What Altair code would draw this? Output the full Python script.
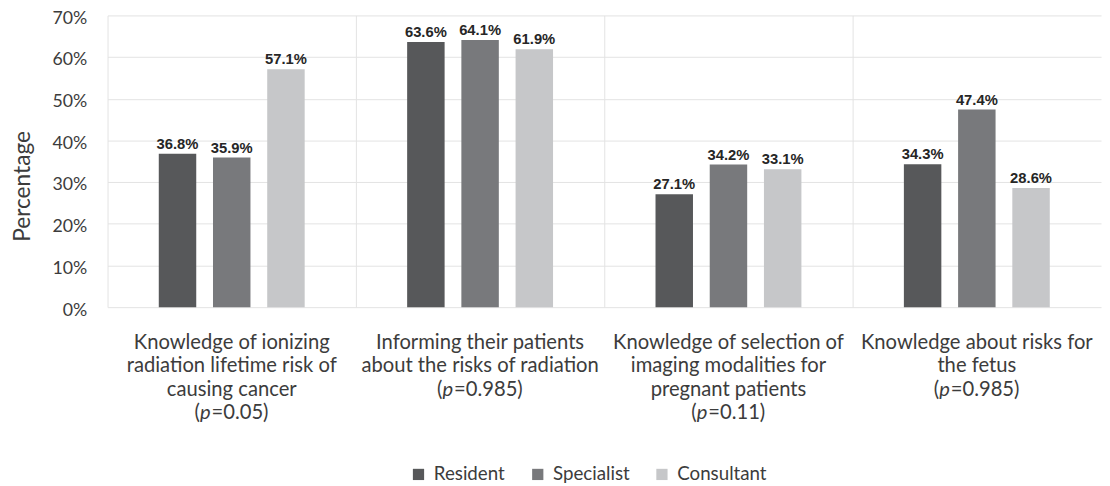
import altair as alt
import pandas as pd

categories = ["cat1", "cat2", "cat3", "cat4"]
label_lines = [
    ["Knowledge of ionizing", "radiation lifetime risk of", "causing cancer"],
    ["Informing their patients", "about the risks of radiation"],
    ["Knowledge of selection of", "imaging modalities for", "pregnant patients"],
    ["Knowledge about risks for", "the fetus"],
]
p_values = ["0.05", "0.985", "0.11", "0.985"]
groups = ["Resident", "Specialist", "Consultant"]
resident = [36.8, 63.6, 27.1, 34.3]
specialist = [35.9, 64.1, 34.2, 47.4]
consultant = [57.1, 61.9, 33.1, 28.6]
colors = ["#57585a", "#78797c", "#c6c7c9"]

FONT = "Lato"
TXT = "#3c3c3c"
GRID = "#e3e3e3"
FS = 20.5

rows = []
for g, vals in zip(groups, [resident, specialist, consultant]):
    for c, v in zip(categories, vals):
        rows.append({"category": c, "group": g, "value": v})
df_bars = pd.DataFrame(rows)

line_rows = []
p_rows = []
for c, lines, p in zip(categories, label_lines, p_values):
    for i, t in enumerate(lines):
        line_rows.append({"category": c, "line": i, "text": t})
    p_rows.append({"category": c, "line": len(lines), "pval": p, "plen": len(p)})
df_lines = pd.DataFrame(line_rows)
df_p = pd.DataFrame(p_rows)

xband = alt.Scale(domain=categories, paddingInner=0, paddingOuter=0)

base = alt.Chart(df_bars).encode(
    x=alt.X("category:N", sort=categories, scale=xband,
            axis=alt.Axis(title=None, labels=False, ticks=False, domain=False,
                          grid=True, gridColor=GRID, bandPosition=0)),
    xOffset=alt.XOffset("group:N", sort=groups,
                        scale=alt.Scale(domain=groups, paddingInner=0.309, paddingOuter=0.945)),
    y=alt.Y("value:Q", scale=alt.Scale(domain=[0, 70]),
            axis=alt.Axis(values=list(range(0, 71, 10)), labelExpr="datum.value + '%'",
                          title="Percentage", titleFont=FONT, titleFontSize=23,
                          titleFontWeight="normal", titleColor=TXT, titlePadding=18,
                          titleY=173,
                          labelFont=FONT, labelFontSize=18, labelColor=TXT,
                          labelPadding=21, labelOffset=3, ticks=False, domain=False,
                          gridColor=GRID)),
)

bars = base.mark_bar().encode(
    color=alt.Color("group:N", sort=groups,
                    scale=alt.Scale(domain=groups, range=colors),
                    legend=alt.Legend(title=None, orient="none", legendX=306, legendY=456,
                                      direction="horizontal",
                                      symbolType="square", symbolSize=130,
                                      symbolStrokeWidth=0,
                                      labelFont=FONT, labelFontSize=19, labelColor=TXT,
                                      labelOffset=6, columnPadding=23))
)

vals = base.transform_calculate(
    label="format(datum.value, '.1f') + '%'"
).mark_text(baseline="bottom", dy=-2, font="Liberation Sans", fontWeight="bold",
            fontSize=15, color="#262626").encode(text="label:N")

top = (bars + vals).properties(width=1008, height=296)

xl = alt.X("category:N", sort=categories, scale=xband, axis=None)
yl = alt.Y("line:O", scale=alt.Scale(domain=[0, 1, 2, 3], type="point", padding=0.5), axis=None)

lines_layer = alt.Chart(df_lines).mark_text(font=FONT, fontSize=FS, color=TXT).encode(
    x=xl, y=yl, text="text:N")

p_layers = []
for plen in [4, 5]:
    total = 0.30 + 0.57 + 0.58 + 0.58 * (plen - 1) + 0.25 + 0.30
    left = -total / 2 * FS
    pb = alt.Chart(df_p).transform_filter(f"datum.plen == {plen}")
    p_layers.append(pb.transform_calculate(t="'('").mark_text(
        font=FONT, fontSize=FS, color=TXT, align="right",
        dx=left + 0.30 * FS).encode(x=xl, y=yl, text="t:N"))
    p_layers.append(pb.transform_calculate(t="'p'").mark_text(
        font=FONT, fontSize=FS, color=TXT, align="left", fontStyle="italic",
        dx=left + 0.30 * FS).encode(x=xl, y=yl, text="t:N"))
    p_layers.append(pb.transform_calculate(t="'=' + datum.pval + ')'").mark_text(
        font=FONT, fontSize=FS, color=TXT, align="left",
        dx=left + 0.87 * FS).encode(x=xl, y=yl, text="t:N"))

labels = alt.layer(lines_layer, *p_layers).properties(width=1008, height=96)

chart = alt.vconcat(top, labels, spacing=10).resolve_legend(color="shared").properties(
    padding={"left": 3, "top": -3, "right": 0, "bottom": 0}
).configure_view(stroke="transparent")

chart.save("out.html", embed_options={"renderer": "svg", "actions": False})
